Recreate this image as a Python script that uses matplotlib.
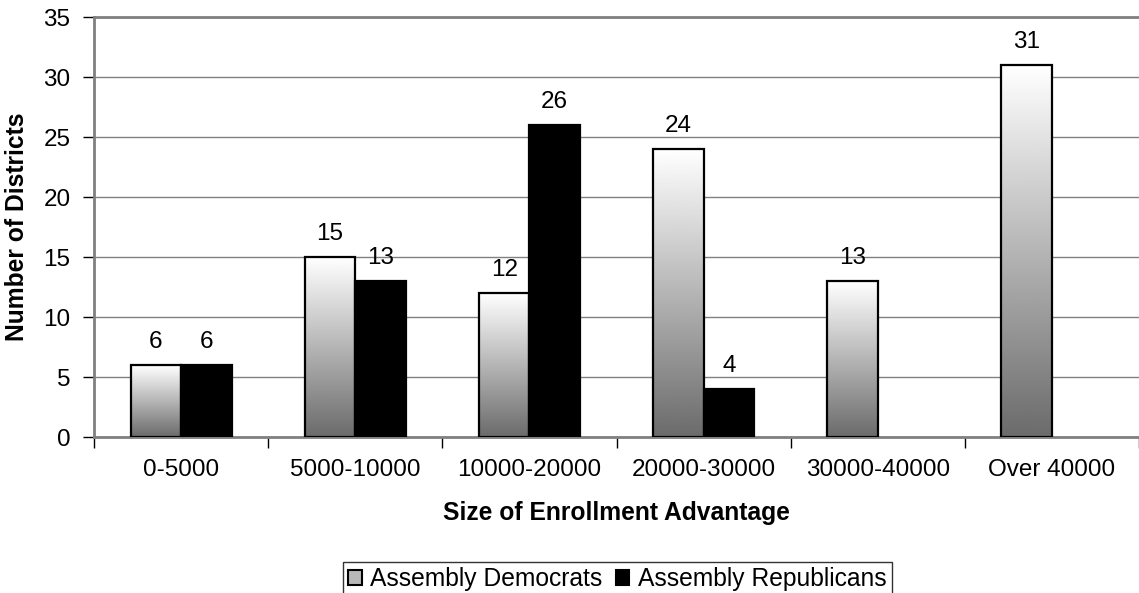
import matplotlib
matplotlib.use("Agg")
import matplotlib.pyplot as plt
import numpy as np
from matplotlib.patches import Rectangle

categories = ["0-5000", "5000-10000", "10000-20000", "20000-30000", "30000-40000", "Over 40000"]
democrats = [6, 15, 12, 24, 13, 31]
republicans = [6, 13, 26, 4, 0, 0]

plt.rcParams["font.family"] = ["Liberation Sans", "DejaVu Sans"]
FS = 17.5
FS_TITLE = 17.7

fig = plt.figure(figsize=(11.39, 5.93), dpi=100)
ax = fig.add_axes([94 / 1139, 1 - 437 / 593, 1 - 94 / 1139, 420 / 593])

n = len(categories)
x = np.arange(n)
w = 0.29

# vertical white -> gray ramp, stretched over each Democrat bar
grad = np.linspace(1.0, 0.42, 256).reshape(-1, 1)
for xi, v in zip(x, democrats):
    x0 = xi - w
    ax.imshow(grad, cmap="gray", vmin=0, vmax=1, aspect="auto",
              extent=(x0, x0 + w, 0, v), origin="upper", zorder=2)
    ax.add_patch(Rectangle((x0, 0), w, v, fill=False, ec="black", lw=1.6, zorder=3))
    ax.text(xi - w / 2, v + 1.0, str(v), ha="center", va="bottom", fontsize=FS)

for xi, v in zip(x, republicans):
    if v == 0:
        continue
    ax.add_patch(Rectangle((xi, 0), w, v, fc="black", ec="black", lw=1.6, zorder=3))
    ax.text(xi + w / 2, v + 1.0, str(v), ha="center", va="bottom", fontsize=FS)

ax.set_xlim(-0.5, n - 0.5)
ax.set_ylim(0, 35)
ax.set_yticks(range(0, 36, 5))
ax.yaxis.grid(True, color="#808080", lw=1)
ax.set_axisbelow(True)
ax.set_xticks(x)
ax.set_xticklabels(categories, fontsize=FS)
ax.tick_params(axis="x", length=0, pad=16)
ax.set_xticks(np.arange(n + 1) - 0.5, minor=True)
ax.tick_params(axis="x", which="minor", length=8, width=1, color="black")
ax.tick_params(axis="y", labelsize=FS, length=8, width=1, color="black", pad=9)
ax.spines["right"].set_visible(False)
for side in ("left", "bottom", "top"):
    ax.spines[side].set_color("#808080")
    ax.spines[side].set_linewidth(2)

ax.set_xlabel("Size of Enrollment Advantage", fontsize=FS_TITLE, fontweight="bold", labelpad=14)
ax.set_ylabel("Number of Districts", fontsize=FS_TITLE, fontweight="bold", labelpad=10)

handles = [Rectangle((0, 0), 1, 1, fc="#b8b8b8", ec="black", lw=1.5),
           Rectangle((0, 0), 1, 1, fc="black", ec="black", lw=1.5)]
leg = fig.legend(handles, ["Assembly Democrats", "Assembly Republicans"],
                 loc="upper center", bbox_to_anchor=(0.542, 1 - 562 / 593), ncol=2,
                 fontsize=FS_TITLE, frameon=True, fancybox=False, handlelength=0.55,
                 handleheight=0.55, handletextpad=0.35, columnspacing=0.55,
                 borderpad=0.2, borderaxespad=0)
leg.get_frame().set_edgecolor("black")
leg.get_frame().set_linewidth(1)

fig.savefig("out.png", dpi=100)
